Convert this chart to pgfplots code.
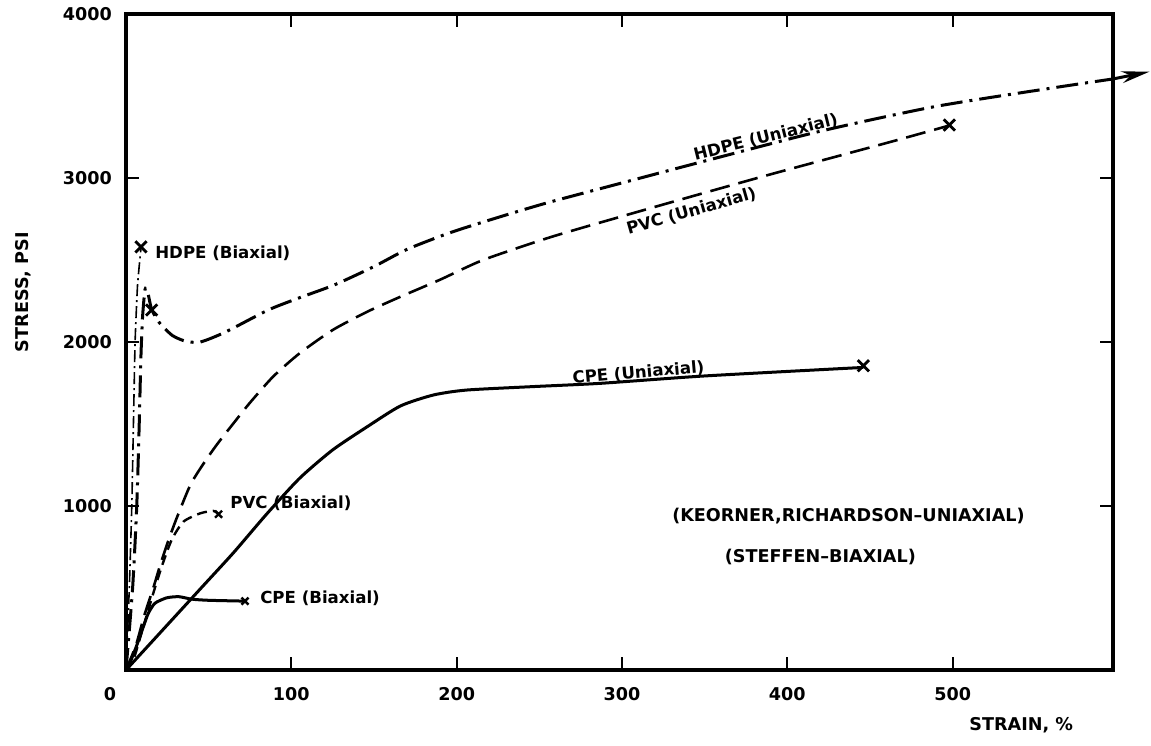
\documentclass[border=0pt]{standalone}
\usepackage{pgfplots}
\pgfplotsset{compat=1.18}
\usepackage{fontspec}
\setmainfont{DejaVu Sans}
\usetikzlibrary{arrows.meta}
\newcommand\lab{\fontsize{8.3}{10}\selectfont\bfseries}
\newcommand\labB{\fontsize{8.8}{10}\selectfont\bfseries}
\begin{document}
\begin{tikzpicture}
\begin{axis}[name=ax, scale only axis, width=493.5pt, height=328pt,
  xmin=0, xmax=597, ymin=0, ymax=4000,
  axis line style={line width=1.8pt},
  tick align=inside, major tick length=6.5pt, tick style={line width=1pt, black},
  xtick={100,200,300,400,500}, ytick={1000,2000,3000,4000},
  extra x ticks={0}, extra x tick style={major tick length=0pt, xticklabel style={xshift=-8pt}},
  /pgf/number format/assume math mode=true,
  /pgf/number format/1000 sep={},
  xticklabel style={font=\labB, yshift=-5pt},
  yticklabel style={font=\labB, xshift=-3.5pt},
  clip=false,
  xlabel={STRAIN, \%}, ylabel={STRESS, PSI},
  every axis x label/.style={at={(axis description cs:0.907,0)}, anchor=center, yshift=-27.5pt, font=\labB},
  every axis y label/.style={at={(axis description cs:0,0.576)}, xshift=-51.5pt, rotate=90, anchor=center, font=\labB},
]
% HDPE (Uniaxial)
\addplot[line width=1.5pt, smooth, tension=0.4, dash pattern=on 11pt off 3.5pt on 1.5pt off 3.5pt] coordinates {
(0,0)(4,500)(6.5,1000)(8,1500)(9,1900)(10,2150)(11.5,2320)(13,2310)(15.5,2200)(20,2120)(28,2040)(36,2005)(45,2000)(60,2060)(86,2195)(105,2270)(126,2348)(150,2460)(170,2565)(197,2670)(230,2775)(257,2855)(303,2978)(345,3090)(419,3283)(489,3435)(559,3547)(597,3604)};
\addplot[line width=1.5pt, -{Stealth[length=14pt,width=6pt]}] coordinates {(597,3604)(619,3648)};
% HDPE (Biaxial)
\addplot[line width=0.8pt, smooth, tension=0.3, dash pattern=on 6pt off 2pt on 1pt off 2pt] coordinates {
(0,0)(2,500)(3.5,1000)(4.5,1500)(5.5,2000)(7,2350)(9.1,2575)};
% PVC (Uniaxial)
\addplot[line width=1.3pt, smooth, tension=0.4, dash pattern=on 10pt off 4.5pt] coordinates {
(0,0)(6,150)(11,330)(16.5,500)(21,650)(26,800)(31,935)(39,1130)(47,1260)(55,1375)(65,1504)(75,1630)(89,1789)(105,1931)(125,2073)(146,2185)(166,2276)(190,2380)(216,2500)(257,2640)(303,2775)(343,2890)(389,3020)(433,3140)(466,3230)(498,3320)};
% PVC (Biaxial)
\addplot[line width=1.2pt, smooth, tension=0.4, dash pattern=on 5pt off 3pt] coordinates {
(0,0)(4.4,60)(10.5,264)(16.5,468)(21.6,630)(27.6,793)(34.7,904)(44.8,955)(52.8,970)(56,950)};
% CPE (Uniaxial)
\addplot[line width=1.5pt, smooth, tension=0.4] coordinates {
(0,0)(45,495)(65,715)(85,950)(105,1169)(125,1342)(146,1484)(166,1610)(186,1677)(206,1707)(246,1728)(287,1748)(350,1793)(446,1845)};
% CPE (Biaxial)
\addplot[line width=1.5pt, smooth, tension=0.4] coordinates {
(0,0)(3,60)(6.5,150)(10.5,264)(13.5,346)(17.5,407)(24.6,440)(32,447)(39.7,432)(50,425)(72,420)};
% end markers
\addplot[only marks, mark=x, mark size=4pt, mark options={line width=1.4pt}] coordinates {(446,1855)(498,3323)(9.1,2580)(15.5,2195)};
\addplot[only marks, mark=x, mark size=2.5pt, mark options={line width=1.2pt}] coordinates {(56,950)(72,420)};
% labels
\node[font=\lab, rotate=14] at (axis cs:387,3247) {HDPE (Uniaxial)};
\node[font=\lab, rotate=16] at (axis cs:342,2796) {PVC (Uniaxial)};
\node[font=\lab, rotate=5] at (axis cs:310,1811) {CPE (Uniaxial)};
\node[font=\lab, anchor=west, inner sep=0pt] at (axis cs:17.5,2541) {HDPE (Biaxial)};
\node[font=\lab, anchor=west, inner sep=0pt] at (axis cs:62.9,1018) {PVC (Biaxial)};
\node[font=\lab, anchor=west, inner sep=0pt] at (axis cs:81,439) {CPE (Biaxial)};
\node[font=\labB] at (axis cs:437,940) {(KEORNER,RICHARDSON--UNIAXIAL)};
\node[font=\labB] at (axis cs:420,689) {(STEFFEN--BIAXIAL)};
\end{axis}
\pgfresetboundingbox
\path ([shift={(-63pt,-37.5pt)}]ax.south west) rectangle ([shift={(19pt,7pt)}]ax.north east);
\end{tikzpicture}
\end{document}
